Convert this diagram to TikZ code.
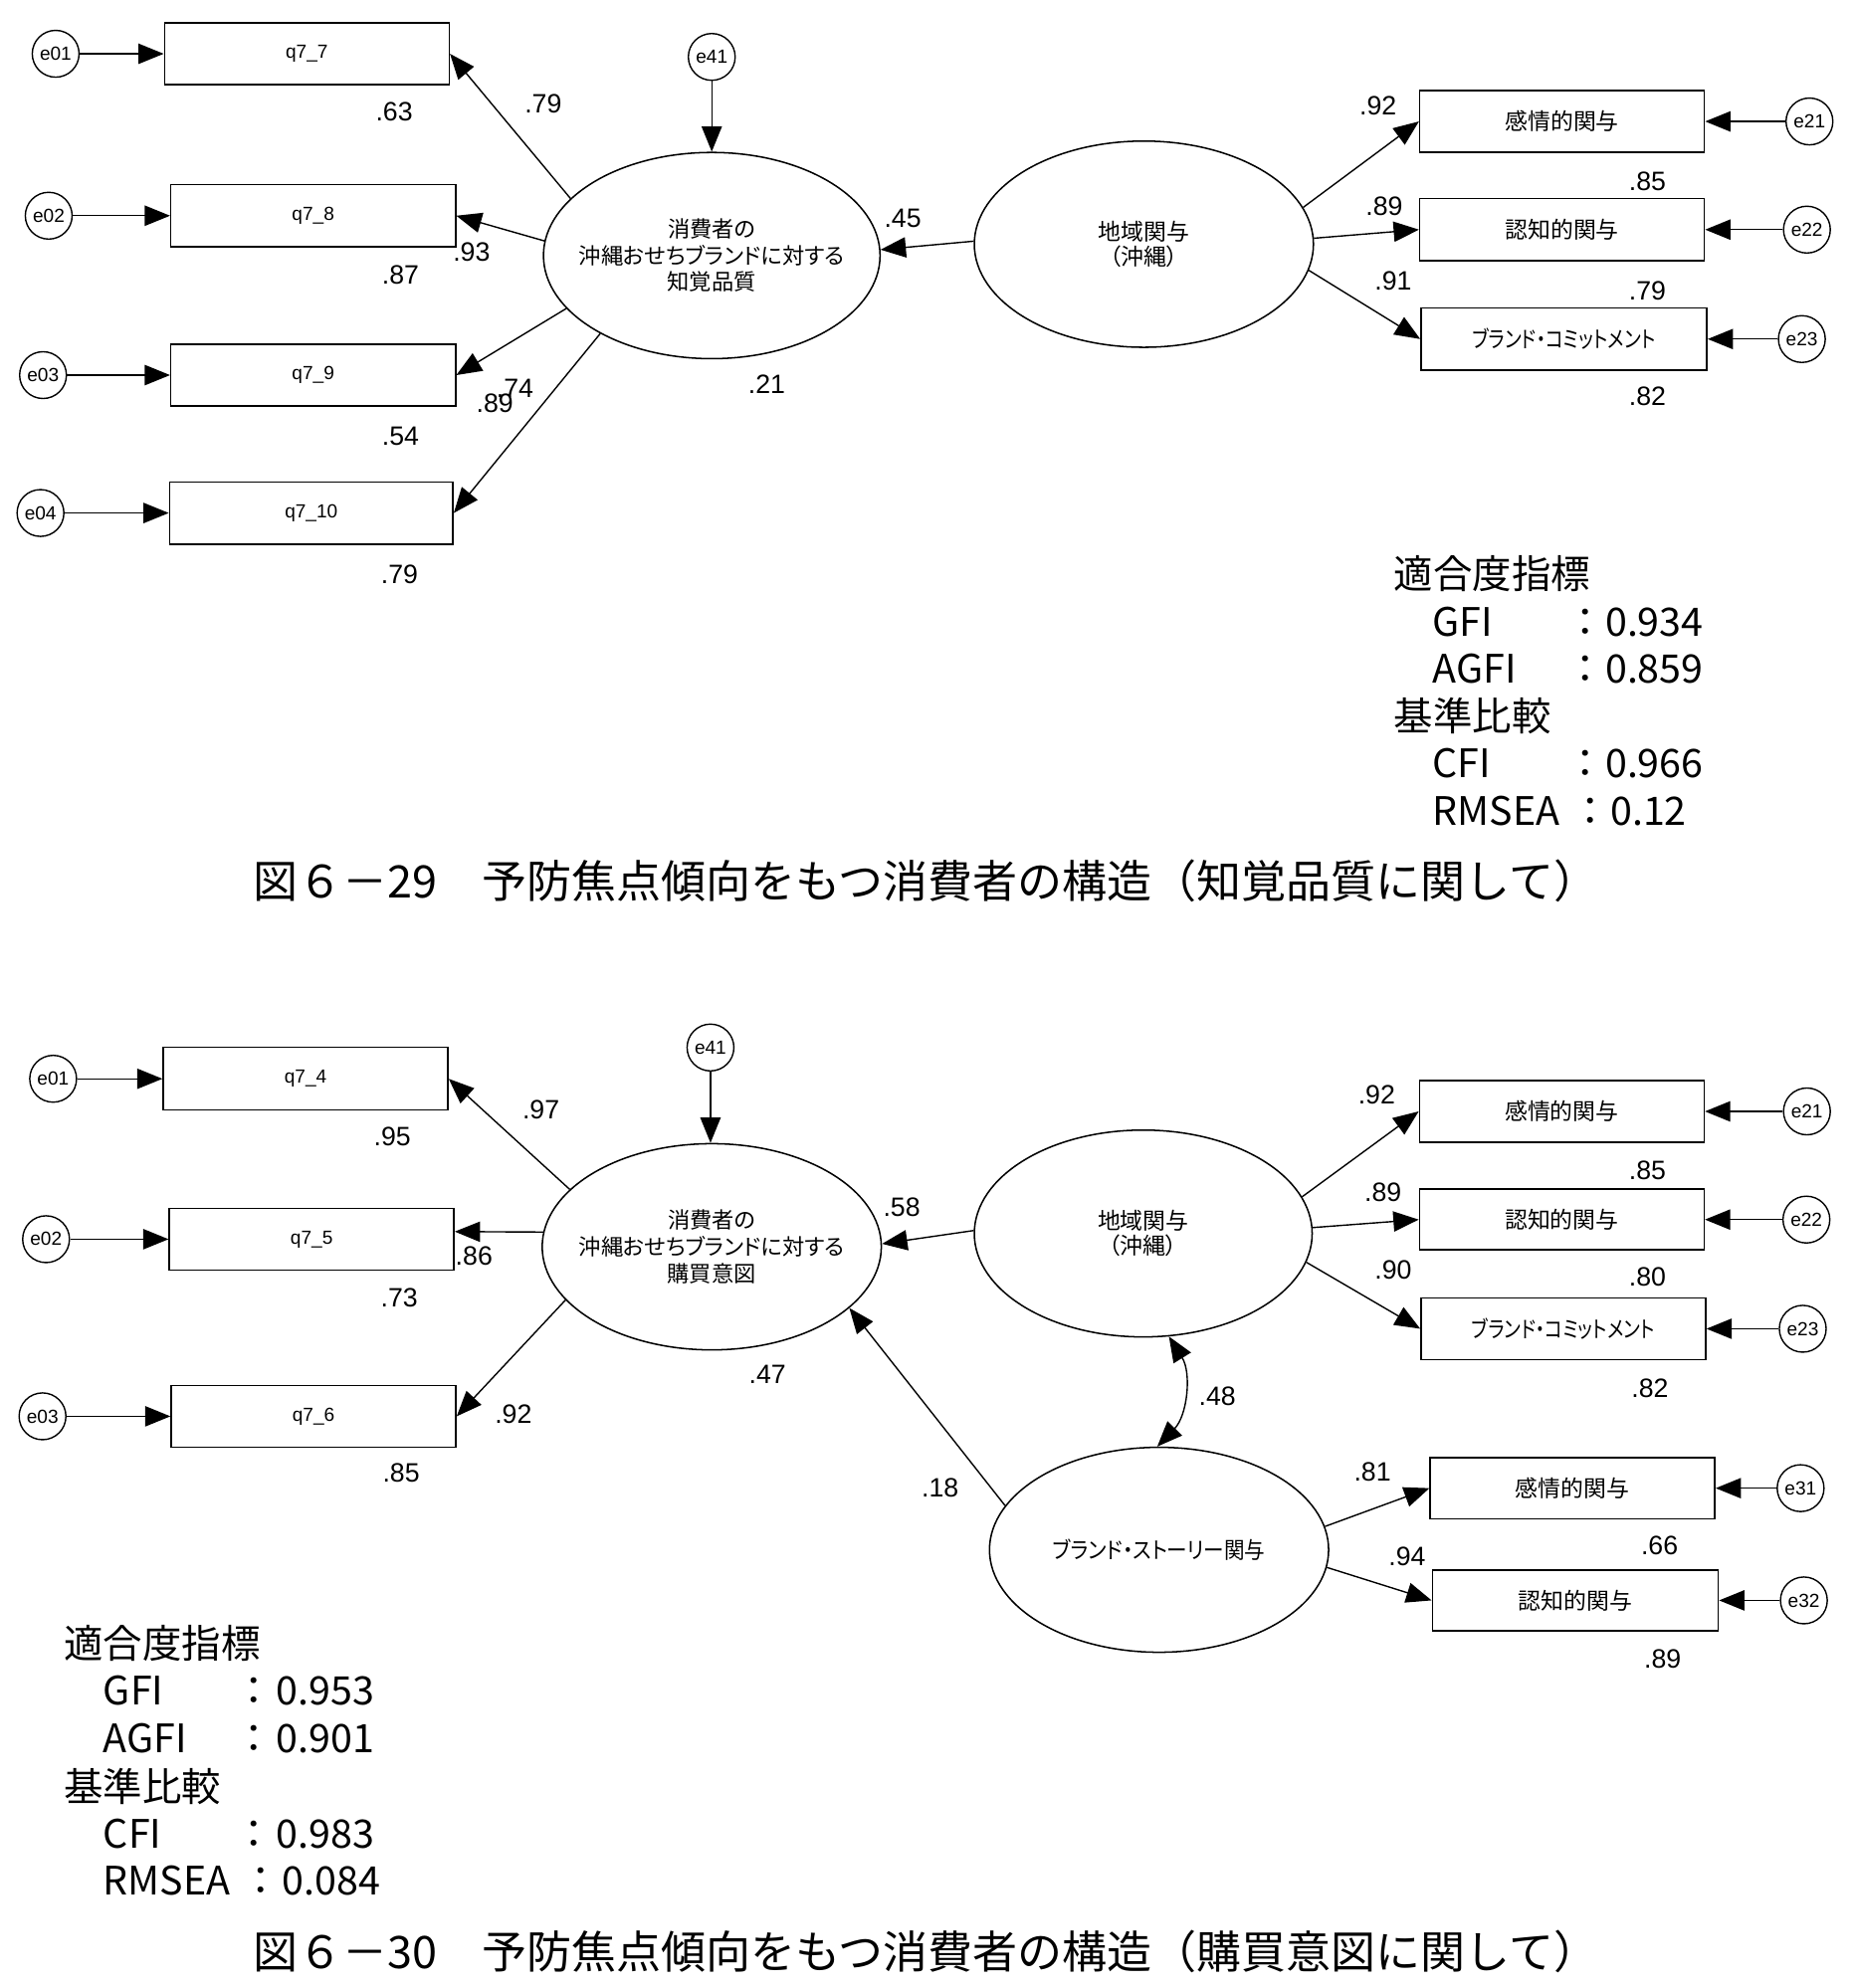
\documentclass[tikz,border=0pt]{standalone}
\usepackage{fontspec}
\setmainfont{Liberation Sans}
\newfontfamily\jp{Noto Sans CJK JP}
\newfontfamily\jpp{Noto Sans CJK JP}[RawFeature=+palt]
\usetikzlibrary{shapes.geometric,arrows.meta}
\begin{document}
\begin{tikzpicture}[x=1pt,y=-1pt,
  errc/.style={circle,draw,line width=1.1pt,minimum size=37pt,inner sep=0pt,font=\fontsize{15}{15}\selectfont},
  obs/.style={rectangle,draw,line width=1.2pt,minimum width=225pt,minimum height=49pt,inner sep=0pt,font=\fontsize{15}{15}\selectfont},
  obsj/.style={obs,font=\jp\fontsize{18}{18}\selectfont},
  obsk/.style={obs,font=\jpp\fontsize{18}{18}\selectfont},
  latv/.style={ellipse,draw,line width=1.2pt,minimum width=268pt,minimum height=163pt,inner sep=0pt},
  latt/.style={inner sep=0pt,align=center,font=\jpp\fontsize{17.5}{21}\selectfont},
  numl/.style={inner sep=0pt,font=\fontsize{21}{21}\selectfont},
  arr/.style={line width=1.1pt,-{Triangle[length=20pt,width=16pt]}},
  darr/.style={line width=1.1pt,{Triangle[length=20pt,width=16pt]}-{Triangle[length=20pt,width=16pt]}},
  fitt/.style={inner sep=0pt,anchor=base west,font=\jp\fontsize{31}{31}\selectfont},
  fitc/.style={inner sep=0pt,anchor=base,font=\jp\fontsize{31}{31}\selectfont},
  capt/.style={inner sep=0pt,anchor=base west,font=\jp\fontsize{35.4}{35.4}\selectfont}
]
\path[fill=white] (0,0) rectangle (1466,1571.4);
\useasboundingbox (0,0) rectangle (1466,1571.4);

% ================= TOP DIAGRAM =================
\node[errc] (te01) at (44,42.5) {e01};
\node[obs] (q77) at (242.5,42.5) {q7\_7};
\node[errc] (te02) at (38.5,170.5) {e02};
\node[obs] (q78) at (247.5,170.5) {q7\_8};
\node[errc] (te03) at (34,296.5) {e03};
\node[obs] (q79) at (247.5,296.5) {q7\_9};
\node[errc] (te04) at (32,405.5) {e04};
\node[obs,minimum width=224pt] (q710) at (246,405.5) {q7\_10};

\node[errc] (te41) at (562.5,45) {e41};
\node[latv,minimum width=266pt] (L1) at (562.5,202) {};
\node[latt] (L1t) at (L1.center) {消費者の\\沖縄おせちブランドに対する\\知覚品質};
\node[latv] (L2) at (904,193) {};
\node[latt,font=\jpp\fontsize{18}{19}\selectfont] (L2t) at (L2.center) {地域関与\\（沖縄）};

\node[obsj] (r1) at (1234.5,96) {感情的関与};
\node[obsk,minimum width=226pt] (r3) at (1236,268) {\scalebox{0.82}[1]{ブランド・コミットメント}};
\node[obsj] (r2) at (1234.5,181.5) {認知的関与};
\node[errc] (te21) at (1430,96) {e21};
\node[errc] (te22) at (1428,181.5) {e22};
\node[errc] (te23) at (1424,268) {e23};

\draw[arr] (te01) -- (q77.west);
\draw[arr] (te02) -- (q78.west);
\draw[arr] (te03) -- (q79.west);
\draw[arr] (te04) -- (q710.west);
\draw[arr] (L1.158) -- (q77.east);
\draw[arr] (L1.175) -- (q78.east);
\draw[arr] (L1.200) -- (q79.east);
\draw[arr] (L1.215) -- (q710.east);
\draw[arr] (te41) -- (L1.north);
\draw[arr] (L2.179) -- (L1.2);
\draw[arr] (L2.13) -- (r1.west);
\draw[arr] (L2.2) -- (r2.west);
\draw[arr] (L2.-9) -- (r3.west);
\draw[arr] (te21) -- (r1.east);
\draw[arr] (te22) -- (r2.east);
\draw[arr] (te23) -- (r3.east);

\node[numl] (a1) at (311.5,88.3) {.63};
\node[numl] (a2) at (316.5,217) {.87};
\node[numl] (a3) at (316.5,345) {.54};
\node[numl] (a4) at (315.7,453.8) {.79};
\node[numl] (a5) at (429.3,81.7) {.79};
\node[numl] (a6) at (372.7,199.6) {.93};
\node[numl] (a7) at (407,307) {.74};
\node[numl] (a8) at (391,319) {.89};
\node[numl] (a9) at (606,303.6) {.21};
\node[numl] (a10) at (713.4,172.2) {.45};
\node[numl] (a11) at (1089,83.5) {.92};
\node[numl] (a12) at (1094,163) {.89};
\node[numl] (a13) at (1101,222) {.91};
\node[numl] (a14) at (1302,143) {.85};
\node[numl] (a15) at (1302,230) {.79};
\node[numl] (a16) at (1302,313) {.82};

% fit indices 1
\node[fitt] (f1h) at (1101.5,465.5) {適合度指標};
\node[fitt] (f1a) at (1132,503) {GFI};
\node[fitc] (f1ac) at (1253,503) {：};
\node[fitt] (f1av) at (1268.5,503) {0.934};
\node[fitt] (f1b) at (1132,539.7) {AGFI};
\node[fitc] (f1bc) at (1253,539.7) {：};
\node[fitt] (f1bv) at (1268.5,539.7) {0.859};
\node[fitt] (f1k) at (1101.5,577.7) {基準比較};
\node[fitt] (f1c) at (1132,614.7) {CFI};
\node[fitc] (f1cc) at (1253,614.7) {：};
\node[fitt] (f1cv) at (1268.5,614.7) {0.966};
\node[fitt] (f1d) at (1132,652) {RMSEA};
\node[fitc] (f1dc) at (1257.3,652) {：};
\node[fitt] (f1dv) at (1272.5,652) {0.12};

\node[capt] (cap1) at (200,709.7) {図６－29　予防焦点傾向をもつ消費者の構造（知覚品質に関して）};

% ================= BOTTOM DIAGRAM =================
\node[errc] (be01) at (42,852.7) {e01};
\node[obs,minimum height=49.5pt] (q74) at (241.5,852.7) {q7\_4};
\node[errc] (be02) at (36.4,979.5) {e02};
\node[obs] (q75) at (246.3,979.5) {q7\_5};
\node[errc] (be03) at (33.6,1119.5) {e03};
\node[obs] (q76) at (247.8,1119.5) {q7\_6};

\node[errc] (be41) at (561.5,828) {e41};
\node[latv] (A) at (562.5,985.5) {};
\node[latt] (At) at (A.center) {消費者の\\沖縄おせちブランドに対する\\購買意図};
\node[latv,minimum width=267pt,minimum height=163.5pt] (B) at (903.5,975) {};
\node[latt,font=\jpp\fontsize{18}{20}\selectfont] (Bt) at (B.center) {地域関与\\（沖縄）};
\node[latv,minimum height=162pt] (C) at (916,1225) {};
\node[latt,font=\jpp\fontsize{18}{18}\selectfont] (Ct) at (C.center) {\scalebox{0.9}[1]{ブランド・ストーリー関与}};

\node[obsj] (s1) at (1234.3,878.5) {感情的関与};
\node[obsj,minimum height=48pt] (s2) at (1234.3,964) {認知的関与};
\node[obsk] (s3) at (1235.5,1050.3) {\scalebox{0.82}[1]{ブランド・コミットメント}};
\node[errc] (be21) at (1428,878.5) {e21};
\node[errc] (be22) at (1427.6,964) {e22};
\node[errc] (be23) at (1424.7,1050.3) {e23};
\node[obsj,minimum height=48.6pt] (t1) at (1242.8,1176.3) {感情的関与};
\node[obsj,minimum width=226pt,minimum height=48pt] (t2) at (1245,1265) {認知的関与};
\node[errc] (be31) at (1423,1176.3) {e31};
\node[errc] (be32) at (1425.6,1265) {e32};

\draw[arr] (be01) -- (q74.west);
\draw[arr] (be02) -- (q75.west);
\draw[arr] (be03) -- (q76.west);
\draw[arr] (A.158) -- (q74.east);
\draw[arr] (A.175) -- ([yshift=6pt]q75.east);
\draw[arr] (A.200) -- (q76.east);
\draw[arr] (be41) -- (be41 |- A.north);
\draw[arr] (B.179) -- (A.1);
\draw[arr] (C.164) -- (A.-24);
\draw[darr] (B.284) to[bend left=38] (C.91);
\draw[arr] (B.13) -- (s1.west);
\draw[arr] (B.2) -- (s2.west);
\draw[arr] (B.-10) -- (s3.west);
\draw[arr] (C.8) -- (t1.west);
\draw[arr] (C.-6) -- (t2.west);
\draw[arr] (be21) -- (s1.east);
\draw[arr] (be22) -- (s2.east);
\draw[arr] (be23) -- (s3.east);
\draw[arr] (be31) -- (t1.east);
\draw[arr] (be32) -- (t2.east);

\node[numl] (b1) at (310,898.7) {.95};
\node[numl] (b2) at (315.5,1025.6) {.73};
\node[numl] (b3) at (317,1164) {.85};
\node[numl] (b4) at (427.5,877) {.97};
\node[numl] (b5) at (374.6,993) {.86};
\node[numl] (b6) at (405.7,1118) {.92};
\node[numl] (b7) at (712.6,954) {.58};
\node[numl] (b8) at (606.6,1086.7) {.47};
\node[numl] (b9) at (962,1104) {.48};
\node[numl] (b10) at (743,1176) {.18};
\node[numl] (b11) at (1088,865) {.92};
\node[numl] (b12) at (1093,942.6) {.89};
\node[numl] (b13) at (1101,1004) {.90};
\node[numl] (b14) at (1302,925) {.85};
\node[numl] (b15) at (1302,1009) {.80};
\node[numl] (b16) at (1304,1097) {.82};
\node[numl] (b17) at (1084.6,1163.7) {.81};
\node[numl] (b18) at (1112,1230.5) {.94};
\node[numl] (b19) at (1311.5,1221.6) {.66};
\node[numl] (b20) at (1314,1311) {.89};

% fit indices 2
\node[fitt] (f2h) at (50.5,1310.7) {適合度指標};
\node[fitt] (f2a) at (81.5,1347.7) {GFI};
\node[fitc] (f2ac) at (200.8,1347.7) {：};
\node[fitt] (f2av) at (218,1347.7) {0.953};
\node[fitt] (f2b) at (81.5,1385.7) {AGFI};
\node[fitc] (f2bc) at (200.8,1385.7) {：};
\node[fitt] (f2bv) at (218,1385.7) {0.901};
\node[fitt] (f2k) at (50.5,1423.7) {基準比較};
\node[fitt] (f2c) at (81.5,1460.7) {CFI};
\node[fitc] (f2cc) at (200.8,1460.7) {：};
\node[fitt] (f2cv) at (218,1460.7) {0.983};
\node[fitt] (f2d) at (81.5,1498.2) {RMSEA};
\node[fitc] (f2dc) at (206.5,1498.2) {：};
\node[fitt] (f2dv) at (223,1498.2) {0.084};

\node[capt] (cap2) at (200,1556) {図６－30　予防焦点傾向をもつ消費者の構造（購買意図に関して）};
\end{tikzpicture}
\end{document}
